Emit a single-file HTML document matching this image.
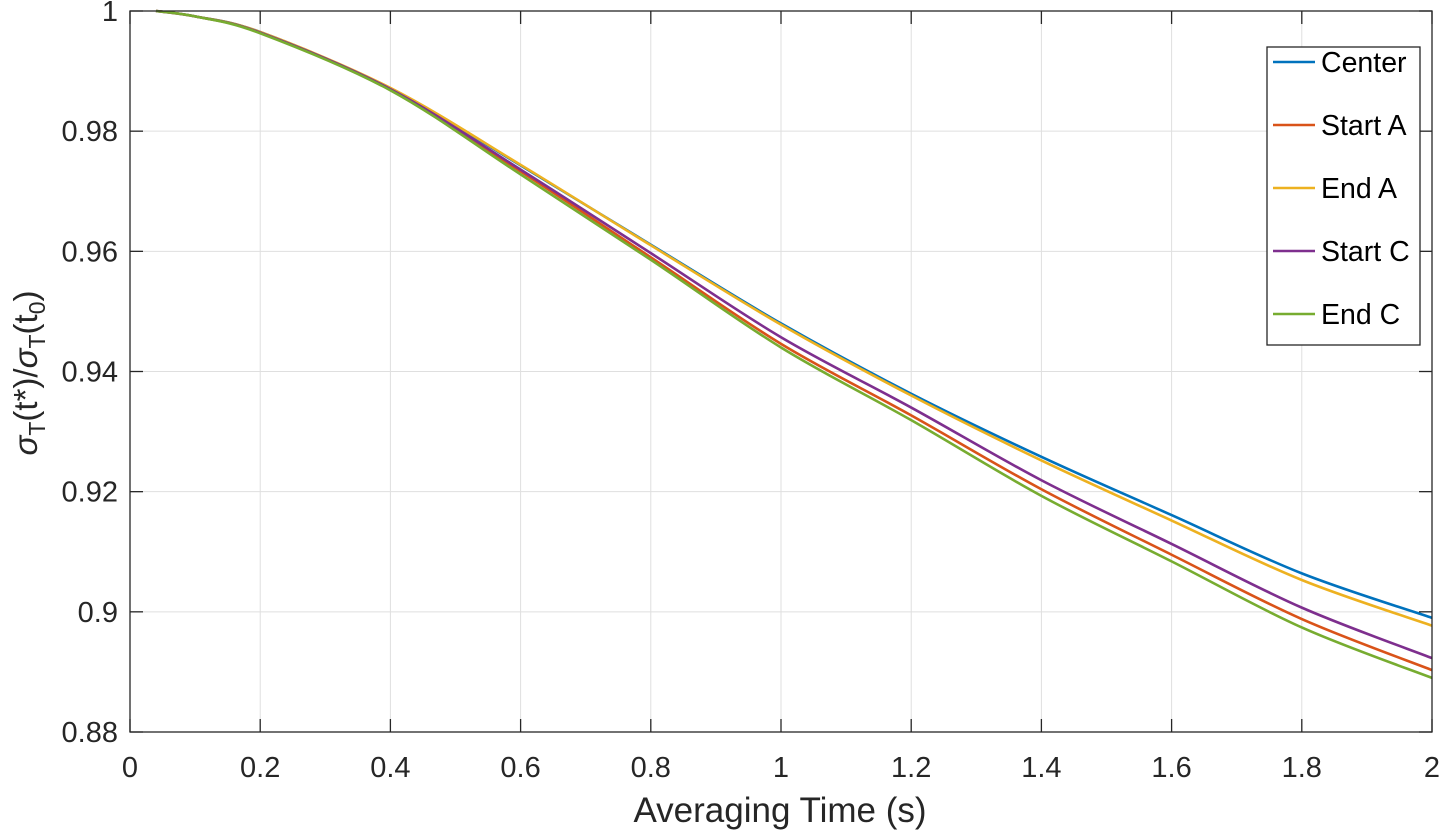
<!DOCTYPE html>
<html><head><meta charset="utf-8"><style>
html,body{margin:0;padding:0;background:#fff;}
svg{display:block;font-family:"Liberation Sans",Arial,sans-serif;}
</style></head><body>
<svg id="chart" width="1440" height="830" xmlns="http://www.w3.org/2000/svg">
<g id="grid"></g>
<g id="series"></g>
<g id="axes"></g>
<text x="780" y="822" text-anchor="middle" font-size="35" fill="#262626">Averaging Time (s)</text>
<text transform="translate(37,373) rotate(-90)" text-anchor="middle" font-size="33" fill="#262626"><tspan font-style="italic">σ</tspan><tspan font-size="23" dy="8">T</tspan><tspan dy="-8">(t*)/</tspan><tspan font-style="italic">σ</tspan><tspan font-size="23" dy="8">T</tspan><tspan dy="-8">(t</tspan><tspan font-size="23" dy="8">0</tspan><tspan dy="-8">)</tspan></text>
<g id="legend"></g>
</svg>
<script>
const xVals=[0.04,0.1,0.2,0.4,0.6,0.8,1.0,1.2,1.4,1.6,1.8,2.0];
const seriesNames=["Center","Start A","End A","Start C","End C"];
const seriesColors=["#0072BD","#D95319","#EDB120","#7E2F8E","#77AC30"];
const center=[1.0,0.9991,0.9965,0.9871,0.9743,0.9611,0.9480,0.9363,0.9258,0.9161,0.9064,0.8990];
const startA=[1.0,0.9991,0.9964,0.9869,0.9733,0.9590,0.9446,0.9327,0.9204,0.9095,0.8988,0.8903];
const endA=[1.0,0.9991,0.9965,0.9872,0.9744,0.9610,0.9478,0.9360,0.9252,0.9152,0.9053,0.8977];
const startC=[1.0,0.9991,0.9964,0.9870,0.9736,0.9597,0.9457,0.9340,0.9219,0.9113,0.9007,0.8923];
const endC=[1.0,0.9991,0.9963,0.9868,0.9728,0.9586,0.9440,0.9319,0.9193,0.9084,0.8974,0.8890];
const xTicks=[0,0.2,0.4,0.6,0.8,1,1.2,1.4,1.6,1.8,2];
const xTickLabels=["0","0.2","0.4","0.6","0.8","1","1.2","1.4","1.6","1.8","2"];
const yTicks=[0.88,0.9,0.92,0.94,0.96,0.98,1];
const yTickLabels=["0.88","0.9","0.92","0.94","0.96","0.98","1"];
const allSeries=[center,startA,endA,startC,endC];

const L=130,R=1432,T=11,B=732;
const xMin=0,xMax=2,yMin=0.88,yMax=1;
function sx(v){return L+(v-xMin)/(xMax-xMin)*(R-L);}
function sy(v){return B-(v-yMin)/(yMax-yMin)*(B-T);}
const NS="http://www.w3.org/2000/svg";
function mk(tag,attrs,parent){const e=document.createElementNS(NS,tag);for(const k in attrs)e.setAttribute(k,attrs[k]);parent.appendChild(e);return e;}
const grid=document.getElementById('grid'),axes=document.getElementById('axes'),ser=document.getElementById('series'),leg=document.getElementById('legend');
mk('rect',{x:L,y:T,width:R-L,height:B-T,fill:'#fff'},grid);
xTicks.forEach((t,i)=>{
  const x=sx(t);
  const g=mk('line',{x1:x,y1:T,x2:x,y2:B,stroke:'#dfdfdf','stroke-width':1},grid);
  
  
  mk('line',{x1:x,y1:B,x2:x,y2:B-13,stroke:'#262626','stroke-width':1.3},axes);
  mk('line',{x1:x,y1:T,x2:x,y2:T+13,stroke:'#262626','stroke-width':1.3},axes);
  const tx=mk('text',{x:x,y:777,'text-anchor':'middle','font-size':29,fill:'#262626'},axes);
  tx.textContent=xTickLabels[i];
  
  
});
yTicks.forEach((t,i)=>{
  const y=sy(t);
  const g=mk('line',{x1:L,y1:y,x2:R,y2:y,stroke:'#dfdfdf','stroke-width':1},grid);
  
  
  mk('line',{x1:L,y1:y,x2:L+13,y2:y,stroke:'#262626','stroke-width':1.3},axes);
  mk('line',{x1:R,y1:y,x2:R-13,y2:y,stroke:'#262626','stroke-width':1.3},axes);
  const tx=mk('text',{x:118,y:y+10,'text-anchor':'end','font-size':29,fill:'#262626'},axes);
  tx.textContent=yTickLabels[i];
  
  
});
mk('rect',{x:L,y:T,width:R-L,height:B-T,fill:'none',stroke:'#262626','stroke-width':1.3},axes);
function smoothPath(pts){
  let d='M'+pts[0][0]+','+pts[0][1];
  for(let i=0;i<pts.length-1;i++){
    const p0=pts[Math.max(0,i-1)],p1=pts[i],p2=pts[i+1],p3=pts[Math.min(pts.length-1,i+2)];
    const c1=[p1[0]+(p2[0]-p0[0])/6,p1[1]+(p2[1]-p0[1])/6];
    const c2=[p2[0]-(p3[0]-p1[0])/6,p2[1]-(p3[1]-p1[1])/6];
    d+=' C'+c1[0]+','+c1[1]+' '+c2[0]+','+c2[1]+' '+p2[0]+','+p2[1];
  }
  return d;
}
allSeries.forEach((vals,si)=>{
  const pts=vals.map((v,i)=>[sx(xVals[i]),sy(v)]);
  const p=mk('path',{d:smoothPath(pts),fill:'none',stroke:seriesColors[si],'stroke-width':2.6},ser);
  
  
});
mk('rect',{x:1267,y:47,width:153,height:298,fill:'#fff',stroke:'#262626','stroke-width':1.3},leg);
seriesNames.forEach((n,i)=>{
  const y=62+i*63;
  const ln=mk('line',{x1:1273,y1:y,x2:1315,y2:y,stroke:seriesColors[i],'stroke-width':2.6},leg);
  
  
  const t=mk('text',{x:1321,y:y+10,'font-size':28.5,fill:'#000'},leg);
  t.textContent=n;
  
  
});
</script>
</body></html>
